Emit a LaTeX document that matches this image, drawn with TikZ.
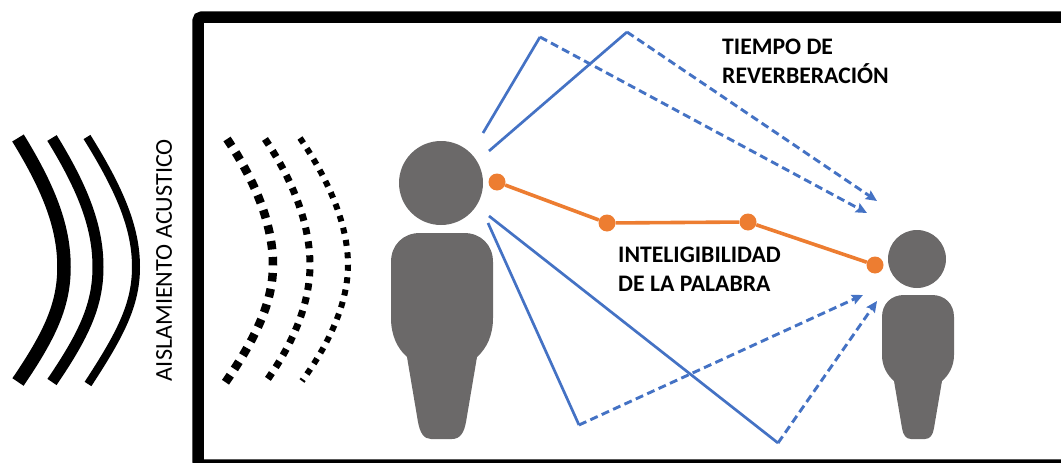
\documentclass[tikz,border=0pt]{standalone}
\usepackage{fontspec}
\setmainfont{Carlito}
\usetikzlibrary{arrows.meta}
\definecolor{raycolor}{HTML}{4472C4}
\definecolor{speechcolor}{HTML}{ED7D31}
\definecolor{personcolor}{HTML}{6B6969}
\tikzset{>={Stealth[length=11pt,width=10pt,inset=1.5pt]}}
\tikzset{wall/.style={draw=black,line width=11.5pt,rounded corners=4pt}}
\tikzset{ray/.style={draw=raycolor,line width=2.7pt}}
\tikzset{echo/.style={draw=raycolor,line width=2.9pt,dash pattern=on 8pt off 4.5pt,->}}
\tikzset{speech/.style={draw=speechcolor,line width=3.6pt}}
\tikzset{stop/.style={circle,fill=speechcolor,inner sep=0pt,minimum size=17pt}}
\tikzset{head/.style={circle,fill=personcolor,inner sep=0pt}}
\tikzset{label/.style={anchor=west,align=left,inner sep=0pt,font=\fontsize{23.7}{29}\selectfont\bfseries}}

\begin{document}
\begin{tikzpicture}[x=1pt,y=-1pt]
    \useasboundingbox (0,0) rectangle (1061,463);
    \clip (0,0) rectangle (1061,463);
    % room
    \draw[wall] (1075,465) -- (198,465) -- (198,17) -- (1075,17);
    % outside waves
    \draw[line width=13.5pt] (18,138) .. controls (50,190) and (64,228) .. (64,267) .. controls (64,305) and (50,335) .. (18,382);
    \draw[line width=11pt] (52,138) .. controls (84,190) and (98,228) .. (98,267) .. controls (98,305) and (84,335) .. (52,382);
    \draw[line width=8pt] (87,137) .. controls (120,190) and (136,228) .. (136,267) .. controls (136,305) and (120,335) .. (88,384);
    \node[rotate=90,inner sep=0pt,font=\fontsize{24.2}{28}\selectfont] (insulation) at (164,260) {AISLAMIENTO ACUSTICO};
    % inside waves
    \draw[line width=8.5pt,dash pattern=on 8.5pt off 7.5pt] (227,139) .. controls (258,185) and (273,228) .. (273,265) .. controls (273,300) and (258,335) .. (225,383);
    \draw[line width=7pt,dash pattern=on 7pt off 7pt] (265,139) .. controls (296,185) and (310,228) .. (310,265) .. controls (310,300) and (296,340) .. (265,383);
    \draw[line width=6pt,dash pattern=on 6pt off 6.5pt] (300,138) .. controls (332,185) and (348,228) .. (348,265) .. controls (348,300) and (332,340) .. (302,381);
    % speaker
    \node[head,minimum size=84pt] (bighead) at (441,183) {};
    \fill[personcolor] (391,262) .. controls (391,245) and (403,233) .. (420,233) -- (464,233)
        .. controls (481,233) and (493,245) .. (493,262) -- (493,318)
        .. controls (493,335) and (487,348) .. (477,357) -- (466,422)
        .. controls (464,433) and (460,439) .. (452,439) -- (431,439)
        .. controls (424,439) and (420,433) .. (418,422) -- (407,357)
        .. controls (397,348) and (391,335) .. (391,318) -- cycle;
    % listener
    \node[head,minimum size=58pt] (smallhead) at (917,259) {};
    \fill[personcolor] (882,317) .. controls (882,304) and (891,295) .. (904,295) -- (932,295)
        .. controls (945,295) and (954,304) .. (954,317) -- (954,355)
        .. controls (954,366) and (949,375) .. (942,381) -- (934,428)
        .. controls (933,435) and (930,439) .. (925,439) -- (911,439)
        .. controls (906,439) and (903,435) .. (902,428) -- (894,381)
        .. controls (887,375) and (882,366) .. (882,355) -- cycle;
    % reflections
    \coordinate (upA) at (483,133);
    \coordinate (peakA) at (540,37);
    \coordinate (endA) at (867,213);
    \coordinate (upB) at (489,151);
    \coordinate (peakB) at (627,32);
    \coordinate (endB) at (877,201);
    \coordinate (downC) at (489,216);
    \coordinate (floorC) at (778,443);
    \coordinate (endC) at (877,301);
    \coordinate (downD) at (488,223);
    \coordinate (floorD) at (579,425);
    \coordinate (endD) at (863,295);
    \draw[ray] (upA) -- (peakA);
    \draw[ray] (upB) -- (peakB);
    \draw[ray] (downC) -- (floorC);
    \draw[ray] (downD) -- (floorD);
    \draw[echo] (peakA) -- (endA);
    \draw[echo] (peakB) -- (endB);
    \draw[echo] (floorC) -- (endC);
    \draw[echo] (floorD) -- (endD);
    % direct path
    \node[stop] (s1) at (497,182) {};
    \node[stop] (s2) at (607,223) {};
    \node[stop] (s3) at (748,222) {};
    \node[stop] (s4) at (875,265) {};
    \draw[speech] (s1) -- (s2) -- (s3) -- (s4);
    % labels
    \node[label] (reverb) at (722,61.5) {TIEMPO DE\\REVERBERACIÓN};
    \node[label] (intel) at (618,269.5) {INTELIGIBILIDAD\\DE LA PALABRA};
\end{tikzpicture}
\end{document}
